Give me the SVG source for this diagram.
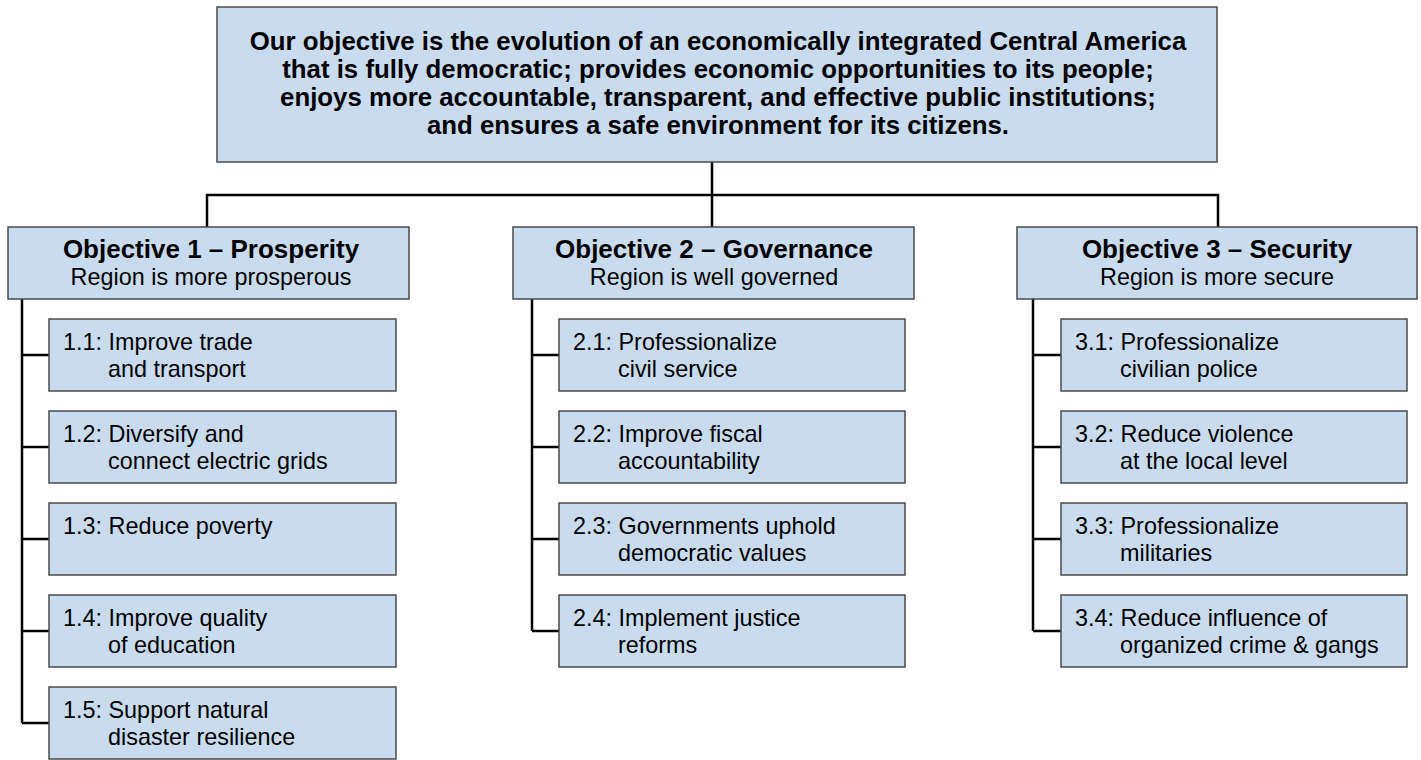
<svg xmlns="http://www.w3.org/2000/svg" width="1421" height="760" viewBox="0 0 1421 760">
<style>
  .box { fill: #c9dcef; stroke: #4a4a4a; stroke-width: 1.5; }
  .conn { fill: none; stroke: #000; stroke-width: 2.5; }
  .top { font-family: "Liberation Sans", Arial, sans-serif; font-weight: bold; font-size: 25.8px; fill: #000; text-anchor: middle; }
  .ttl { font-family: "Liberation Sans", Arial, sans-serif; font-weight: bold; font-size: 26px; fill: #000; text-anchor: middle; }
  .sub { font-family: "Liberation Sans", Arial, sans-serif; font-size: 23.4px; fill: #000; text-anchor: middle; }
  .item { font-family: "Liberation Sans", Arial, sans-serif; font-size: 23.4px; fill: #000; }
</style>
<rect width="1421" height="760" fill="#fff"/>

<g id="connectors">
  <path class="conn" d="M712 162 V195 M207 227 V195 H1218 V227 M712 195 V227"/>
  <path class="conn" d="M22 299 V723 M22 355 H49 M22 447 H49 M22 539 H49 M22 631 H49 M22 723 H49"/>
  <path class="conn" d="M532 299 V631 M532 355 H559 M532 447 H559 M532 539 H559 M532 631 H559"/>
  <path class="conn" d="M1033 299 V631 M1033 355 H1061 M1033 447 H1061 M1033 539 H1061 M1033 631 H1061"/>
</g>

<g id="goal">
  <rect class="box" x="217" y="7" width="1000" height="155"/>
  <text class="top" x="718" y="50">Our objective is the evolution of an economically integrated Central America</text>
  <text class="top" x="718" y="78">that is fully democratic; provides economic opportunities to its people;</text>
  <text class="top" x="718" y="106">enjoys more accountable, transparent, and effective public institutions;</text>
  <text class="top" x="718" y="134">and ensures a safe environment for its citizens.</text>
</g>

<g id="obj1">
  <rect class="box" x="8" y="227" width="401" height="72"/>
  <text class="ttl" x="211" y="258">Objective 1 – Prosperity</text>
  <text class="sub" x="211" y="285">Region is more prosperous</text>
</g>
<g id="obj2">
  <rect class="box" x="513" y="227" width="401" height="72"/>
  <text class="ttl" x="714" y="258">Objective 2 – Governance</text>
  <text class="sub" x="714" y="285">Region is well governed</text>
</g>
<g id="obj3">
  <rect class="box" x="1017" y="227" width="400" height="72"/>
  <text class="ttl" x="1217" y="258">Objective 3 – Security</text>
  <text class="sub" x="1217" y="285">Region is more secure</text>
</g>

<g id="s1-1"><rect class="box" x="49" y="319" width="347" height="72"/>
  <text class="item" x="63" y="350">1.1: Improve trade</text><text class="item" x="108" y="377">and transport</text></g>
<g id="s1-2"><rect class="box" x="49" y="411" width="347" height="72"/>
  <text class="item" x="63" y="442">1.2: Diversify and</text><text class="item" x="108" y="469">connect electric grids</text></g>
<g id="s1-3"><rect class="box" x="49" y="503" width="347" height="72"/>
  <text class="item" x="63" y="534">1.3: Reduce poverty</text></g>
<g id="s1-4"><rect class="box" x="49" y="595" width="347" height="72"/>
  <text class="item" x="63" y="626">1.4: Improve quality</text><text class="item" x="108" y="653">of education</text></g>
<g id="s1-5"><rect class="box" x="49" y="687" width="347" height="72"/>
  <text class="item" x="63" y="718">1.5: Support natural</text><text class="item" x="108" y="745">disaster resilience</text></g>

<g id="s2-1"><rect class="box" x="559" y="319" width="346" height="72"/>
  <text class="item" x="573" y="350">2.1: Professionalize</text><text class="item" x="618" y="377">civil service</text></g>
<g id="s2-2"><rect class="box" x="559" y="411" width="346" height="72"/>
  <text class="item" x="573" y="442">2.2: Improve fiscal</text><text class="item" x="618" y="469">accountability</text></g>
<g id="s2-3"><rect class="box" x="559" y="503" width="346" height="72"/>
  <text class="item" x="573" y="534">2.3: Governments uphold</text><text class="item" x="618" y="561">democratic values</text></g>
<g id="s2-4"><rect class="box" x="559" y="595" width="346" height="72"/>
  <text class="item" x="573" y="626">2.4: Implement justice</text><text class="item" x="618" y="653">reforms</text></g>

<g id="s3-1"><rect class="box" x="1061" y="319" width="346" height="72"/>
  <text class="item" x="1075" y="350">3.1: Professionalize</text><text class="item" x="1120" y="377">civilian police</text></g>
<g id="s3-2"><rect class="box" x="1061" y="411" width="346" height="72"/>
  <text class="item" x="1075" y="442">3.2: Reduce violence</text><text class="item" x="1120" y="469">at the local level</text></g>
<g id="s3-3"><rect class="box" x="1061" y="503" width="346" height="72"/>
  <text class="item" x="1075" y="534">3.3: Professionalize</text><text class="item" x="1120" y="561">militaries</text></g>
<g id="s3-4"><rect class="box" x="1061" y="595" width="346" height="72"/>
  <text class="item" x="1075" y="626">3.4: Reduce influence of</text><text class="item" x="1120" y="653">organized crime &amp; gangs</text></g>
</svg>
